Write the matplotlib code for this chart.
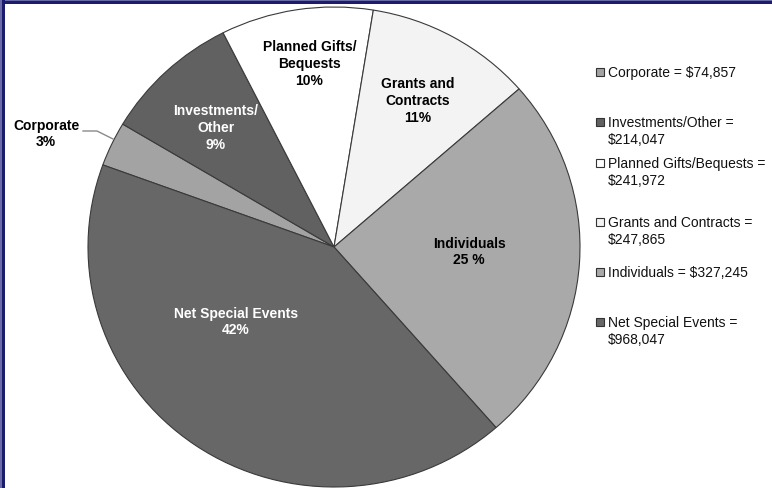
#!/usr/bin/env python3
"""Revenue sources pie chart in grayscale with a side legend."""

import matplotlib
matplotlib.use("Agg", force=True)

import matplotlib.pyplot as plt
from matplotlib.patches import Rectangle

# data
categories = ["Corporate", "Investments/Other", "Planned Gifts/Bequests",
              "Grants and Contracts", "Individuals", "Net Special Events"]
amounts = [74857, 214047, 241972, 247865, 327245, 968047]
percents = [3, 9, 10, 11, 25, 42]
slice_labels = ["Corporate\n3%", "Investments/\nOther\n9%", "Planned Gifts/\nBequests\n10%",
                "Grants and\nContracts\n11%", "Individuals\n25 %", "Net Special Events\n42%"]
legend_labels = ["Corporate = $74,857", "Investments/Other =\n$214,047",
                 "Planned Gifts/Bequests =\n$241,972", "Grants and Contracts =\n$247,865",
                 "Individuals = $327,245", "Net Special Events =\n$968,047"]

colors = ["#a3a3a3", "#616161", "#ffffff", "#f3f3f3", "#a9a9a9", "#676767"]
text_colors = ["black", "white", "black", "black", "black", "white"]

# label positions in data coords (pie radius = 1)
label_pos = [(-1.17, 0.475), (-0.48, 0.50), (-0.10, 0.767),
             (0.34, 0.612), (0.55, -0.017), (-0.40, -0.308)]
legend_y = [73, 123, 164, 223, 273, 323]  # first-line centers, pixels from top

W, H = 772, 489
fig = plt.figure(figsize=(W / 100, H / 100), dpi=100)
fig.patch.set_facecolor("white")

# pie axes placed by pixel bounds
cx, cy, rx, ry = 334, 248, 246, 240
ax = fig.add_axes([(cx - rx) / W, (H - cy - ry) / H, 2 * rx / W, 2 * ry / H])
ax.pie(percents, colors=colors, startangle=160, counterclock=False,
       wedgeprops={"edgecolor": "#3a3a3a", "linewidth": 0.8})
ax.set_aspect("auto")
ax.set_xlim(-1, 1)
ax.set_ylim(-1, 1)
ax.set_axis_off()

for lab, (x, y), tc in zip(slice_labels, label_pos, text_colors):
    ax.text(x, y, lab, ha="center", va="center", fontsize=10, fontweight="bold",
            color=tc, family="Liberation Sans", linespacing=1.25)

# leader line for Corporate
def px(x, y):
    return (x - cx) / rx, (cy - y) / ry

pts = [px(83, 132), px(97, 132), px(113, 140)]
ax.plot([p[0] for p in pts], [p[1] for p in pts], color="#8a8a8a", lw=1.0,
        clip_on=False)

# legend drawn at the right
for lab, c, y in zip(legend_labels, colors, legend_y):
    fig.patches.append(Rectangle((596 / W, (H - y - 4) / H), 8 / W, 8 / H,
                                 transform=fig.transFigure, facecolor=c,
                                 edgecolor="#333333", linewidth=0.8))
    fig.text(608 / W, (H - y + 7) / H, lab, ha="left", va="top", fontsize=10,
             family="Liberation Sans", color="#111111", linespacing=1.25)

# navy frame on top and left
fig.patches.append(Rectangle((0, (H - 5) / H), 1, 5 / H, transform=fig.transFigure,
                             facecolor="#1c1c6e", edgecolor="none"))
fig.patches.append(Rectangle((0, (H - 2) / H), 1, 2 / H, transform=fig.transFigure,
                             facecolor="#6a6aa6", edgecolor="none"))
fig.patches.append(Rectangle((0, 0), 5 / W, 1, transform=fig.transFigure,
                             facecolor="#1c1c6e", edgecolor="none"))
fig.patches.append(Rectangle((0, 0), 2 / W, 1, transform=fig.transFigure,
                             facecolor="#6a6aa6", edgecolor="none"))

fig.savefig("out.png", dpi=100)
